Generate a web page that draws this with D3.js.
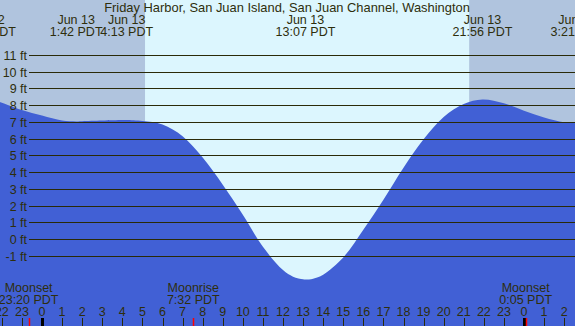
<!DOCTYPE html>
<html><head><meta charset="utf-8">
<script src="https://cdn.jsdelivr.net/npm/d3@7"></script>
<style>html,body{margin:0;padding:0;background:#fff;}svg{display:block;}</style>
</head><body>
<script>
// ---- data ----
const title = "Friday Harbor, San Juan Island, San Juan Channel, Washington";
const tideHours  = [-2.1, -2, -1, 0, 1, 1.7, 2, 3, 4, 4.2, 5, 6, 7, 8, 9, 10, 11, 12, 12.5, 13, 13.12, 13.5, 14, 15, 16, 17, 18, 19, 20, 21, 21.93, 23, 24, 25, 26, 26.6];
const tideFeet   = [8.17, 8.15, 7.71, 7.38, 7.08, 7.03, 7.04, 7.08, 7.11, 7.11, 7.05, 6.85, 6.15, 4.87, 3.25, 1.45, -0.47, -1.86, -2.25, -2.41, -2.42, -2.37, -2.13, -1.1, 0.56, 2.35, 4.26, 5.96, 7.3, 8.07, 8.34, 8.11, 7.67, 7.27, 6.98, 6.93];
const eventHours = [-2.79, 1.7, 4.217, 13.117, 21.933, 27.35];
const eventDays  = ["Jun 12", "Jun 13", "Jun 13", "Jun 13", "Jun 13", "Jun 14"];
const eventTimes = ["21:13 PDT", "1:42 PDT", "4:13 PDT", "13:07 PDT", "21:56 PDT", "3:21 PDT"];
const moonHours  = [-0.667, 7.533, 24.083];
const moonNames  = ["Moonset", "Moonrise", "Moonset"];
const moonTimes  = ["23:20 PDT", "7:32 PDT", "0:05 PDT"];
const sunrise = 5.13, sunset = 21.27;
const feetTicks = [-1, 0, 1, 2, 3, 4, 5, 6, 7, 8, 9, 10, 11];
const hourTicks = d3.range(-2, 27);

// ---- layout ----
const W = 575, H = 326;
const x = d3.scaleLinear().domain([0, 24]).range([42, 524]);
const y = d3.scaleLinear().domain([0, 11]).range([239, 55]);
const FONT = "'Liberation Sans', Arial, sans-serif";
const TXT = "#2e2e0c";

const svg = d3.select("body").append("svg").attr("width", W).attr("height", H)
  .style("font-family", FONT);

svg.append("rect").attr("width", W).attr("height", H).attr("fill", "#dcf6fe");
svg.append("rect").attr("x", 0).attr("y", 0).attr("width", x(sunrise)).attr("height", H).attr("fill", "#b0c4de");
svg.append("rect").attr("x", x(sunset)).attr("y", 0).attr("width", W - x(sunset)).attr("height", H).attr("fill", "#b0c4de");

const pts = tideHours.map((h, i) => [h, tideFeet[i]]);
svg.append("path").datum(pts)
  .attr("fill", "#4160d5")
  .attr("d", d3.area().x(d => x(d[0])).y0(H).y1(d => y(d[1])).curve(d3.curveCatmullRom.alpha(0.5)));

// grid lines + labels
const g = svg.append("g");
feetTicks.forEach(v => {
  const yy = Math.round(y(v)) + 0.5;
  g.append("line").attr("x1", 29).attr("x2", W).attr("y1", yy).attr("y2", yy)
    .attr("stroke", "#2a2a08").attr("stroke-width", 1);
  g.append("text").attr("x", 27).attr("y", yy + 4).attr("text-anchor", "end")
    .attr("font-size", 12.5).attr("fill", TXT).text(v + " ft");
});

// title
svg.append("text").attr("x", 287).attr("y", 12).attr("text-anchor", "middle")
  .attr("font-size", 12.9).attr("fill", TXT).text(title);

// tide event labels
eventHours.forEach((h, i) => {
  const cx = Math.max(-14, Math.min(577, x(h)));
  svg.append("text").attr("x", cx).attr("y", 23.5).attr("text-anchor", "middle")
    .attr("font-size", 12.5).attr("fill", TXT).text(eventDays[i]);
  svg.append("text").attr("x", cx).attr("y", 35.5).attr("text-anchor", "middle")
    .attr("font-size", 12.5).attr("fill", TXT).text(eventTimes[i]);
});

// moon labels
moonHours.forEach((h, i) => {
  svg.append("text").attr("x", x(h)).attr("y", 291.5).attr("text-anchor", "middle")
    .attr("font-size", 12.5).attr("fill", TXT).text(moonNames[i]);
  svg.append("text").attr("x", x(h)).attr("y", 303.5).attr("text-anchor", "middle")
    .attr("font-size", 12.5).attr("fill", TXT).text(moonTimes[i]);
});

// hour ticks + labels
hourTicks.forEach(h => {
  const xx = Math.round(x(h)) + 0.5;
  const midnight = (h % 24 === 0);
  svg.append("line").attr("x1", xx).attr("x2", xx).attr("y1", 318).attr("y2", H)
    .attr("stroke", midnight ? "#000" : "#2a2a08").attr("stroke-width", midnight ? 3 : 1);
  svg.append("text").attr("x", x(h)).attr("y", 316).attr("text-anchor", "middle")
    .attr("font-size", 12.5).attr("fill", TXT).text(((h % 24) + 24) % 24);
});
moonHours.forEach(h => {
  const xx = Math.round(x(h)) + 0.5;
  svg.append("line").attr("x1", xx).attr("x2", xx).attr("y1", 318).attr("y2", H)
    .attr("stroke", "#ff0000").attr("stroke-width", 1.5);
});
</script>
</body></html>
